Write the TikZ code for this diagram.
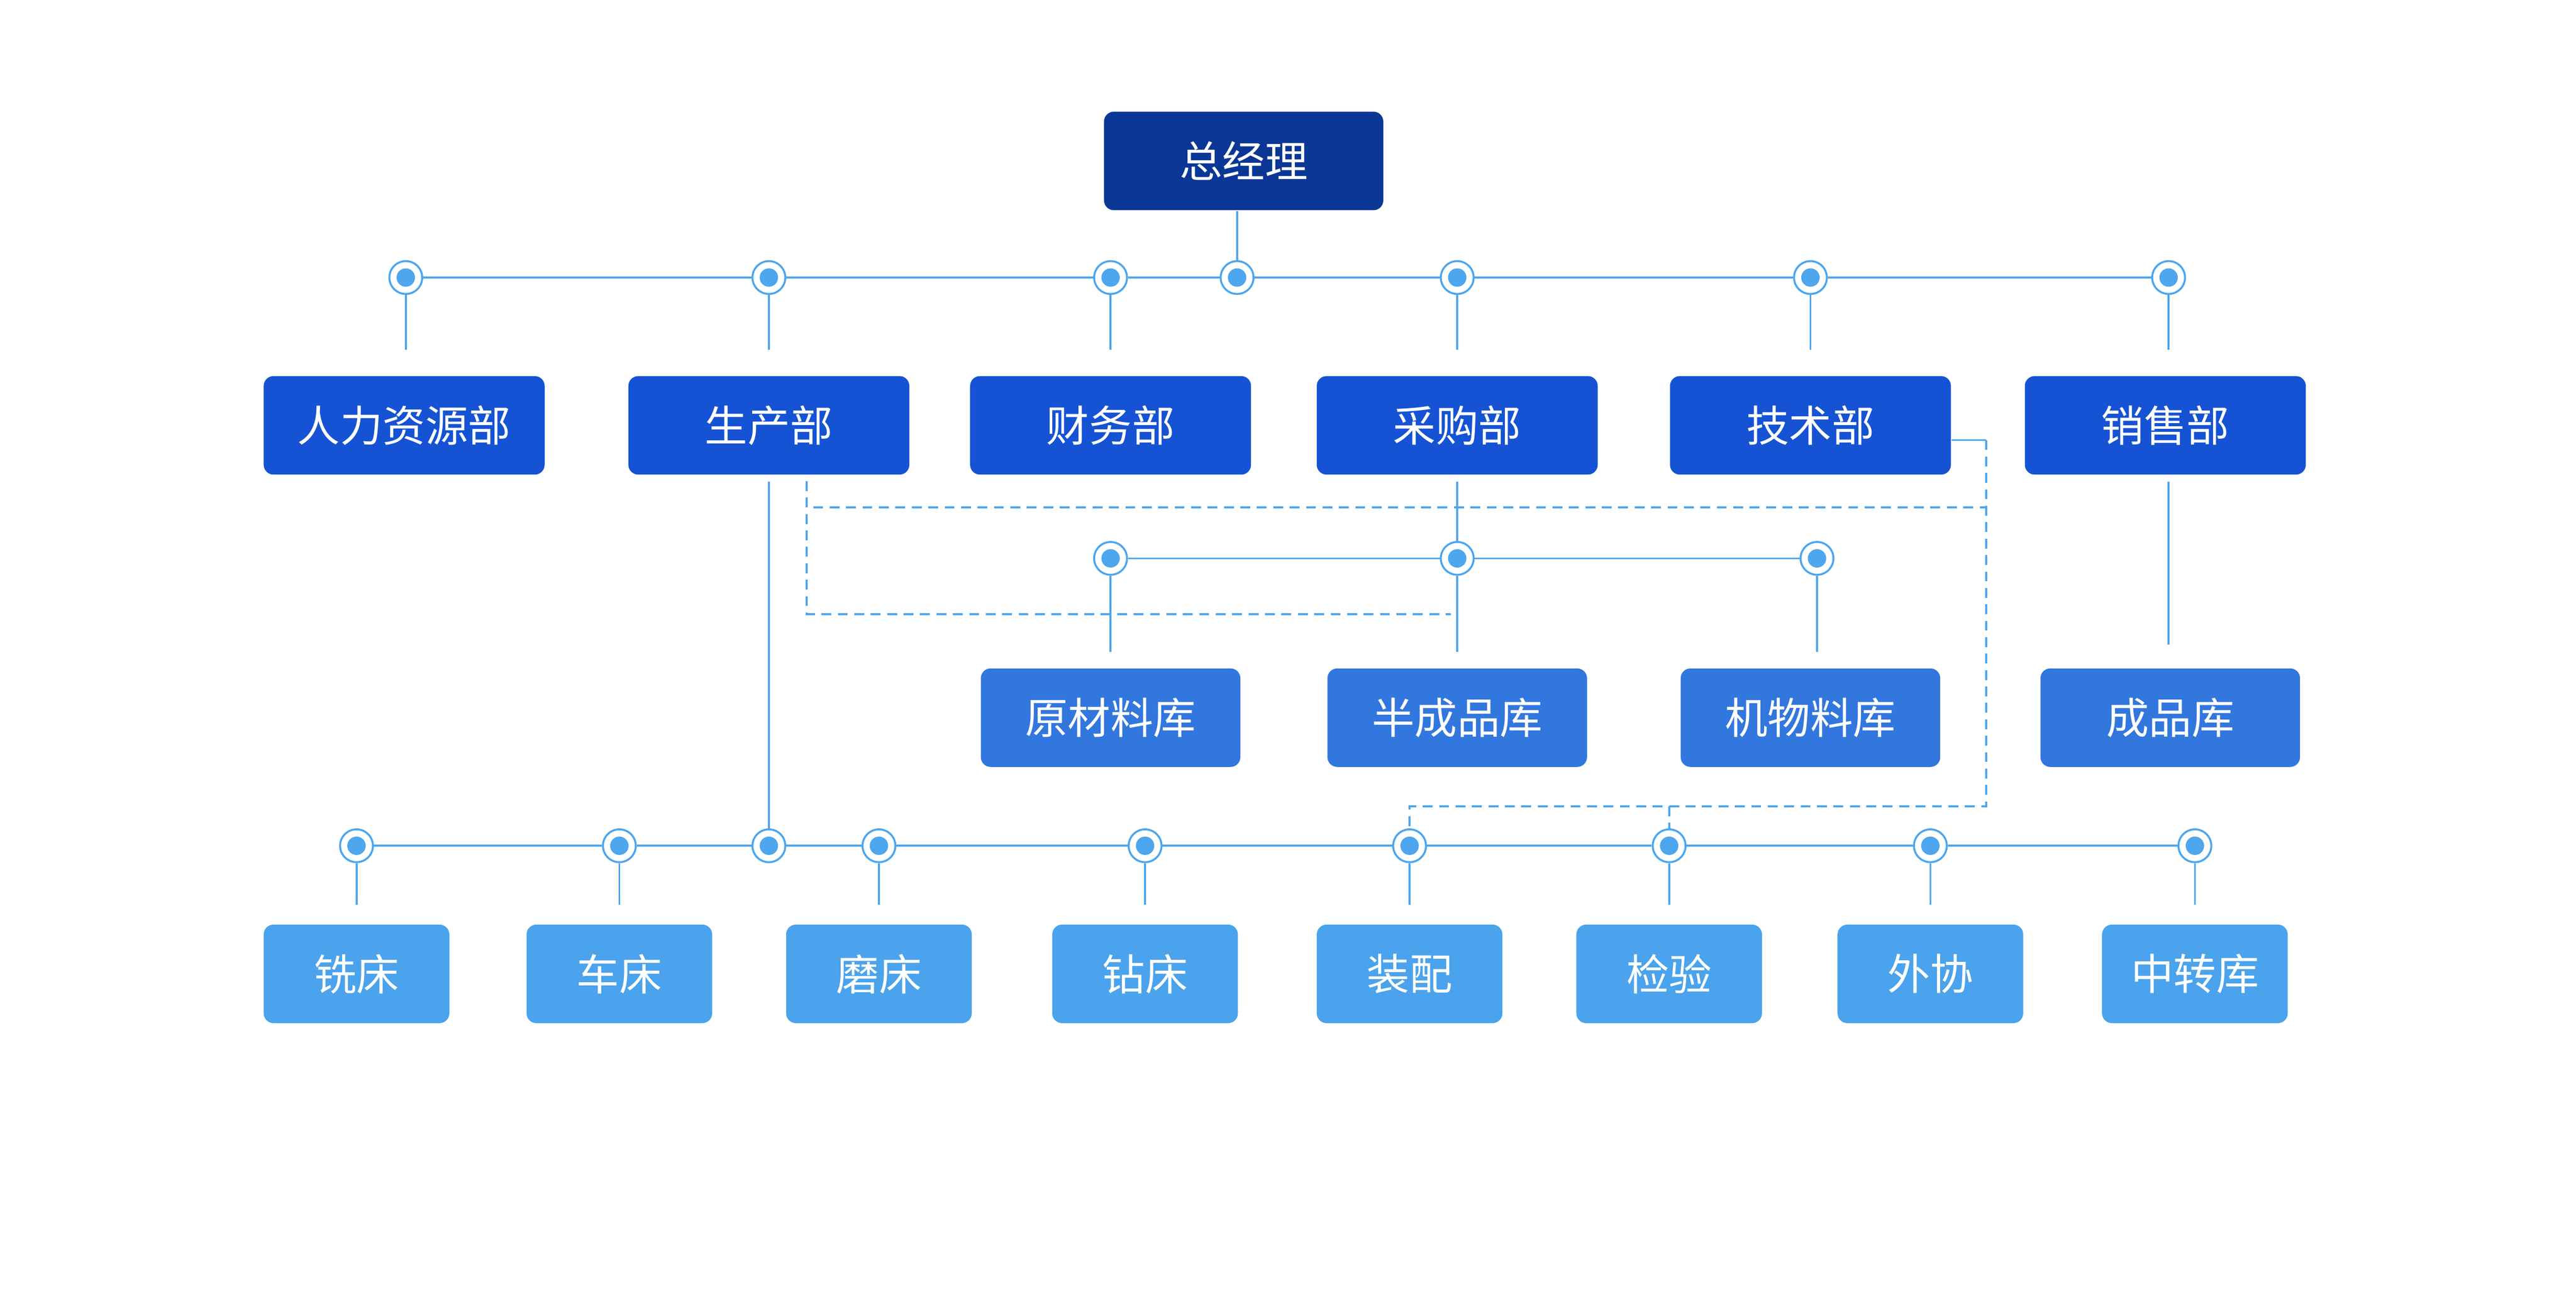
\documentclass[tikz,border=0pt]{standalone}
\usepackage{fontspec}
\setmainfont{Noto Sans CJK SC}
\usetikzlibrary{calc,positioning}
\definecolor{topblue}{HTML}{0A3796}
\definecolor{deptblue}{HTML}{1553D4}
\definecolor{storeblue}{HTML}{3277DD}
\definecolor{shopblue}{HTML}{4AA3EC}
\definecolor{linkblue}{HTML}{4DA6EE}
\tikzset{
  box/.style={rounded corners=3pt,text=white,font=\fontsize{13}{15}\selectfont,minimum height=30pt,inner sep=0pt},
  link/.style={draw=linkblue,line width=0.6pt},
  dlink/.style={draw=linkblue,line width=0.6pt,dash pattern=on 3pt off 2pt},
  dot/.style={circle,draw=linkblue,fill=white,line width=0.6pt,minimum size=10pt,inner sep=0pt,
    path picture={\fill[linkblue] (path picture bounding box.center) circle (2.8pt);}}
}
\begin{document}
\begin{tikzpicture}[x=0.5pt,y=-0.5pt]
  \useasboundingbox (0,0) rectangle (1568,797);
  \node[box,fill=topblue,minimum width=85pt] (gm) at (757,98) {总经理};

  % departments
  \foreach \X/\N/\T in {246/hr/人力资源部,468/prod/生产部,676/fin/财务部,887/buy/采购部,1102/tech/技术部,1318/sale/销售部}
    \node[box,fill=deptblue,minimum width=85.5pt] (\N) at (\X,259) {\T};
  \node[dot] (g0) at (753,169) {};
  \foreach \X [count=\Y] in {247,468,676,887,1102,1320}
  {
    \node[dot] (g\Y) at (\X,169) {};
    \path (g\Y) ++(0,44) coordinate (g\Y{}b);
    \draw[link] (g\Y) -- (g\Y{}b);
  }
  \draw[link] (g1) -- (g2) -- (g3) -- (g0) -- (g4) -- (g5) -- (g6);
  \draw[link] (gm.south -| g0) -- (g0);

  % stores
  \foreach \X/\N/\T in {676/raw/原材料库,887/semi/半成品库,1102/misc/机物料库,1321/done/成品库}
    \node[box,fill=storeblue,minimum width=79pt] (\N) at (\X,437) {\T};
  \foreach \X [count=\Y] in {676,887,1106}
  {
    \node[dot] (s\Y) at (\X,340) {};
    \path (s\Y) ++(0,57) coordinate (s\Y{}b);
    \draw[link] (s\Y) -- (s\Y{}b);
  }
  \draw[link] (s1) -- (s2) -- (s3);
  \draw[link] ([yshift=-2pt]buy.south) -- (s2);
  \draw[link] ([yshift=-2pt]sale.south -| g6) -- ++(0,99);

  % workshops
  \foreach \X/\N/\T in {217/mill/铣床,377/lathe/车床,535/grind/磨床,697/drill/钻床,858/asm/装配,1016/qc/检验,1175/out/外协,1336/trans/中转库}
    \node[box,fill=shopblue,minimum width=56.5pt] (\N) at (\X,593) {\T};
  \foreach \X [count=\Y] in {217,377,468,535,697,858,1016,1175,1336}
  {
    \node[dot] (w\Y) at (\X,515) {};
    \path (w\Y) ++(0,36) coordinate (w\Y{}b);
    \ifnum\Y=3\else\draw[link] (w\Y) -- (w\Y{}b);\fi
  }
  \draw[link] (w1) -- (w2) -- (w3) -- (w4) -- (w5) -- (w6) -- (w7) -- (w8) -- (w9);
  \draw[link] ([yshift=-2pt]prod.south) -- (w3);

  % dashed links
  \coordinate (d1) at (491,293);
  \coordinate (d2) at (1209,268);
  \draw[dlink] (d1) |- (1209,309);
  \draw[dlink] (d1) |- (883,374);
  \draw[link] (tech.east |- d2) -- (d2);
  \draw[dlink] (d2) |- (858,491) -- (w6);
  \draw[dlink] (1016,491) -- (w7);
\end{tikzpicture}
\end{document}
